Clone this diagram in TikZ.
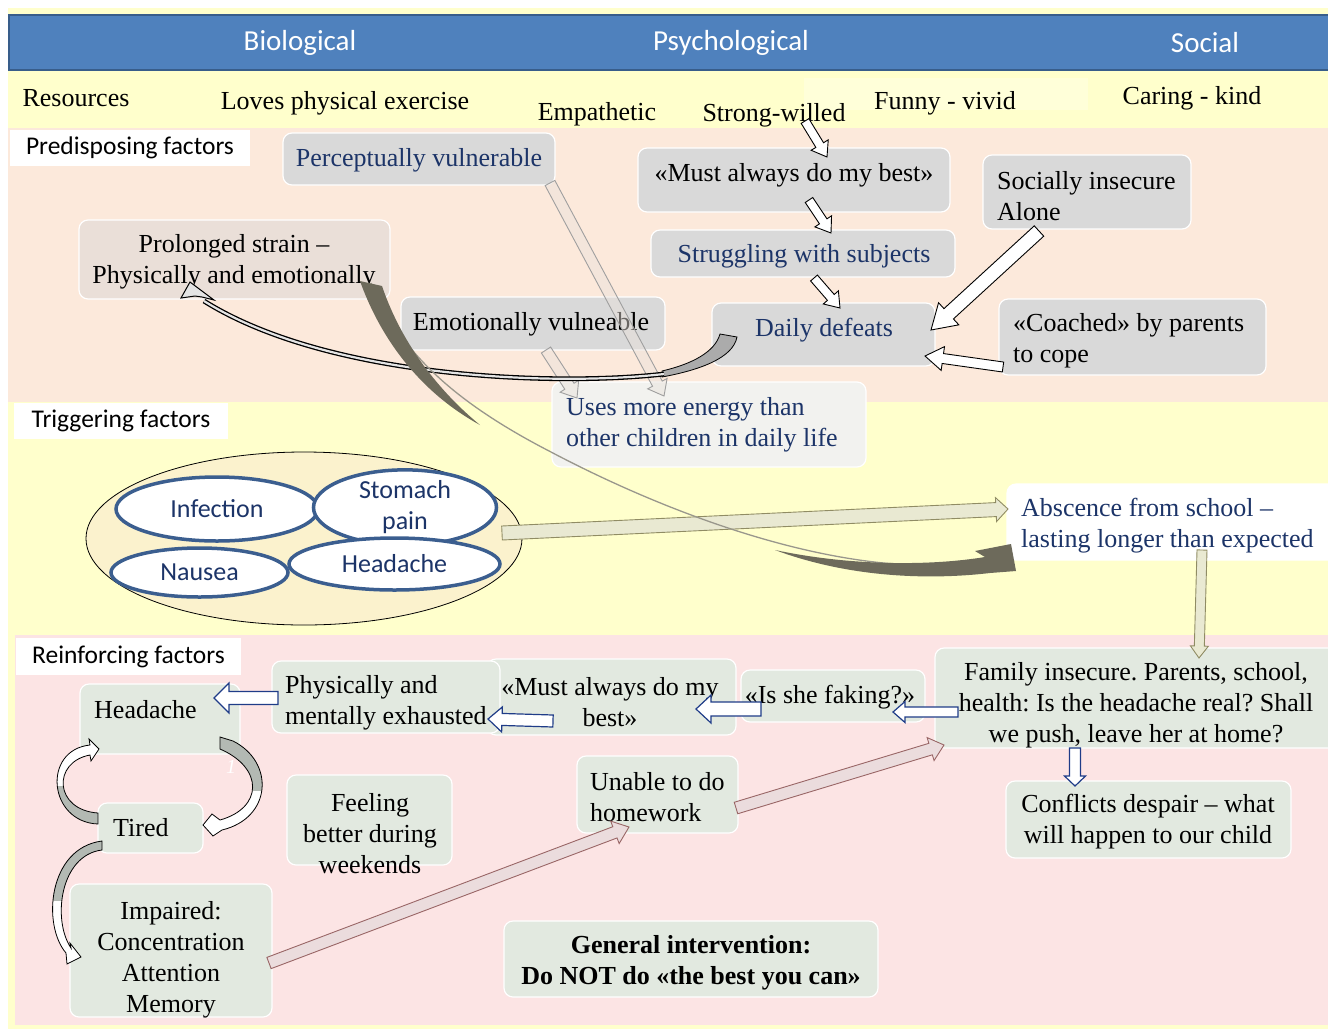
\documentclass[tikz,border=0pt]{standalone}
\usepackage{fontspec}
\setmainfont{Liberation Serif}
\newfontfamily\calib{Carlito}
\usetikzlibrary{calc,shapes.geometric}
\frenchspacing
\definecolor{hdrblue}{HTML}{4F81BD}
\definecolor{hdrline}{HTML}{385D8A}
\definecolor{ylw}{HTML}{FFFFCC}
\definecolor{peach}{HTML}{FCE9DB}
\definecolor{pinkbg}{HTML}{FCE4E4}
\definecolor{boxgray}{HTML}{D9D9D9}
\definecolor{strainbox}{HTML}{EADFD8}
\definecolor{energybox}{HTML}{F2F2EF}
\definecolor{greenbox}{HTML}{E2E9E0}
\definecolor{navy}{HTML}{1C3468}
\definecolor{ellblue}{HTML}{3B5E8F}
\definecolor{ellfill}{HTML}{FBF2CD}
\definecolor{darkarrow}{HTML}{6D6A5B}
\definecolor{lightbrown}{HTML}{E9E1DB}
\definecolor{beige}{HTML}{E9E9D2}
\definecolor{pinkarrow}{HTML}{EBDCDD}
\definecolor{arrowblue}{HTML}{1F3C88}
\definecolor{loopgray}{HTML}{B3B9B3}
\definecolor{tabgray}{HTML}{ABABAB}

\newcommand{\blockarrow}[6][]{%
  \draw[#1] let \p1=($(#3)-(#2)$), \n1={atan2(\y1,\x1)}, \n2={veclen(\x1,\y1)} in
    ($(#2)+({\n1+90}:{#4*0.5pt})$)
    -- ($(#2)+({\n1}:{\n2*1pt-#6pt})+({\n1+90}:{#4*0.5pt})$)
    -- ($(#2)+({\n1}:{\n2*1pt-#6pt})+({\n1+90}:{#5*0.5pt})$)
    -- (#3)
    -- ($(#2)+({\n1}:{\n2*1pt-#6pt})+({\n1-90}:{#5*0.5pt})$)
    -- ($(#2)+({\n1}:{\n2*1pt-#6pt})+({\n1-90}:{#4*0.5pt})$)
    -- ($(#2)+({\n1-90}:{#4*0.5pt})$) -- cycle;}

\newcommand{\loopApath}{(220,737) -- (233,741) .. controls (275,762) and (272,818) .. (222,830) -- (213,836) -- (203,825) -- (212,814) -- (220,820) .. controls (263,808) and (264,768) .. (220,749) -- cycle}
\newcommand{\loopBpath}{(98,824) .. controls (48,822) and (42,750) .. (90,745) -- (89,739) -- (99,749) -- (91,761) -- (90,755) .. controls (52,762) and (54,810) .. (98,813) -- cycle}
\newcommand{\loopCpath}{(102,841) .. controls (48,848) and (42,925) .. (66,953) -- (67,964) -- (81,957) -- (70,943) -- (71,948) .. controls (52,920) and (60,855) .. (102,850) -- cycle}

\tikzset{
  txt/.style={inner sep=0pt, font=\fontsize{26}{31}\selectfont, text=black},
  ntxt/.style={txt, text=navy},
  btxt/.style={inner sep=0pt, font=\bfseries\fontsize{26}{31}\selectfont},
  sans/.style={inner sep=0pt, font=\calib\fontsize{25.5}{31}\selectfont},
  hdr/.style={inner sep=0pt, font=\calib\fontsize{29}{32}\selectfont, text=white},
  gbox/.style={draw=white, line width=1.2pt, rounded corners=9pt, fill=boxgray, inner sep=0pt},
  rbox/.style={gbox, fill=greenbox},
  lbl/.style={sans, fill=white},
  ell/.style={ellipse, draw=ellblue, line width=3.5pt, fill=white, inner sep=0pt, text=navy, font=\calib\fontsize{26}{31}\selectfont, align=center},
  blk/.style={draw=black, line width=0.9pt, fill=white, line join=miter},
  lbr/.style={draw=gray!75, line width=0.9pt, fill=lightbrown, fill opacity=0.45, line join=miter},
  bge/.style={draw=gray!70!olive, line width=0.9pt, fill=beige, line join=miter},
  pnk/.style={draw=gray!80!red, line width=0.9pt, fill=pinkarrow, line join=miter},
  bla/.style={draw=arrowblue, line width=1.2pt, fill=white, line join=miter},
}

\begin{document}
\begin{tikzpicture}[x=1pt,y=-1pt]
\useasboundingbox (0,0) rectangle (1328,1029);
% backgrounds
\fill[white] (0,0) rectangle (1328,1029);
\fill[ylw] (8,8) rectangle (1328,1029);
\fill[ylw!75!white] (804,78) rectangle (1088,110);
\fill[peach] (8,128) rectangle (1328,402);
\fill[pinkbg] (15,635) rectangle (1328,1025);
\draw[fill=hdrblue, draw=hdrline, line width=2.5pt] (9,15) rectangle (1340,70);

% header
\node[hdr] (bio) at (300,43) {Biological};
\node[hdr] (psy) at (731,43) {Psychological};
\node[hdr] (soc) at (1205,43) {Social};

% resources
\node[txt] (res) at (76,98) {Resources};
\node[txt] (r1) at (345,103) {Loves physical exercise};
\node[txt] (r2) at (597,114) {Empathetic};
\node[txt] (r3) at (774,115) {Strong-willed};
\node[txt] (r4) at (945,103) {Funny - vivid};
\node[txt] (r5) at (1192,98) {Caring - kind};

% labels
\node[lbl, minimum width=240pt, minimum height=36pt] (pf) at (130,148) {Predisposing factors};
\node[lbl, minimum width=214pt, minimum height=36pt] (tf) at (121,421) {Triggering factors};
\node[lbl, minimum width=225pt, minimum height=37pt] (rf) at (128.5,656.5) {Reinforcing factors};

% predisposing boxes
\node[gbox, minimum width=272pt, minimum height=52pt] (pv) at (419,159) {};
\node[ntxt] (pvt) at (419,160) {Perceptually vulnerable};
\node[gbox, minimum width=312pt, minimum height=64pt] (mb) at (794,180) {};
\node[txt] (mbt) at (794,175) {«Must always do my best»};
\node[gbox, minimum width=304pt, minimum height=47pt] (sws) at (803,253.5) {};
\node[ntxt] (swst) at (804,256) {Struggling with subjects};
\node[gbox, minimum width=208pt, minimum height=74pt] (si) at (1087,192) {};
\node[txt, anchor=west, align=left] (sit) at (997,196) {Socially insecure\\Alone};
\node[gbox, fill=strainbox, minimum width=311pt, minimum height=79pt] (ps) at (234.5,259.5) {};
\node[txt, align=center] (pst) at (234,262) {Prolonged strain –\\Physically and emotionally};
\node[gbox, minimum width=264pt, minimum height=53pt] (ev) at (533,323.5) {};
\node[txt] (evt) at (531,324) {Emotionally vulneable};
\node[gbox, minimum width=223pt, minimum height=63pt] (dd) at (823.5,334.5) {};
\node[ntxt] (ddt) at (824,330) {Daily defeats};
\node[gbox, minimum width=267pt, minimum height=76pt] (co) at (1132.5,337) {};
\node[txt, anchor=west, align=left] (cot) at (1013,341) {«Coached» by parents\\to cope};
\node[gbox, fill=energybox, minimum width=314pt, minimum height=85pt] (ue) at (709,424.5) {};
\node[ntxt, anchor=west, align=left] (uet) at (566,425) {Uses more energy than\\other children in daily life};

% triggering
\node[ellipse, draw=black, line width=0.8pt, fill=ellfill, minimum width=436pt, minimum height=173pt] (trig) at (304,538.5) {};
\node[ell, minimum width=202pt, minimum height=64pt] (inf) at (217,509) {Infection};
\node[ell, minimum width=183pt, minimum height=59pt] (sto) at (405,507.5) {Stomach\\pain};
\node[ell, minimum width=177pt, minimum height=49pt] (nau) at (199.5,572.5) {Nausea};
\node[ell, minimum width=211pt, minimum height=52pt] (hea) at (394.5,564) {Headache};
\node[gbox, fill=white, draw=white, minimum width=333pt, minimum height=76pt] (abs) at (1173.5,522) {};
\node[ntxt, anchor=west, align=left] (abst) at (1021,526) {Abscence from school –\\lasting longer than expected};

% reinforcing boxes
\node[rbox, minimum width=160pt, minimum height=70pt] (hd) at (160,719) {};
\node[txt, anchor=west] (hdt) at (94,710) {Headache};
\node[rbox, minimum width=105pt, minimum height=50pt] (td) at (150.5,828) {};
\node[txt, anchor=west] (tdt) at (113,828) {Tired};
\node[rbox, minimum width=202pt, minimum height=133pt] (im) at (171,950.5) {};
\node[txt, align=center] (imt) at (171,960) {Impaired:\\Concentration\\Attention\\Memory};
\node[rbox, minimum width=165pt, minimum height=90pt] (fb) at (369.5,820) {};
\node[txt, align=center] (fbt) at (370,834) {Feeling\\better during\\weekends};
\node[rbox, minimum width=249pt, minimum height=76pt] (mb2) at (611.5,697) {};
\node[txt, align=center] (mb2t) at (610,702) {«Must always do my\\best»};
\node[rbox, minimum width=228pt, minimum height=72pt] (pm) at (386,697) {};
\node[txt, anchor=west, align=left] (pmt) at (285,703) {Physically and\\mentally exhausted};
\node[rbox, minimum width=184pt, minimum height=52pt] (sf) at (833,696) {};
\node[txt] (sft) at (830,697) {«Is she faking?»};
\node[rbox, minimum width=405pt, minimum height=100pt] (fi) at (1137.5,698) {};
\node[txt, align=center] (fit) at (1136,705) {Family insecure. Parents, school,\\health: Is the headache real? Shall\\we push, leave her at home?};
\node[rbox, minimum width=285pt, minimum height=77pt] (cd) at (1148.5,819.5) {};
\node[txt, align=center] (cdt) at (1148,822) {Conflicts despair – what\\will happen to our child};
\node[rbox, minimum width=161pt, minimum height=77pt] (uh) at (657.5,794.5) {};
\node[txt, anchor=west, align=left] (uht) at (590,797) {Unable to do\\homework};
\node[rbox, minimum width=374pt, minimum height=76pt] (gi) at (691,959) {};
\node[btxt, align=center] (git) at (691,963) {General intervention:\\Do NOT do «the best you can»};
\node[text=white, inner sep=0pt, font=\itshape\fontsize{20}{24}\selectfont] (one) at (231,767) {1};

% connector end points
\coordinate (a1s) at (805,121); \coordinate (a1e) at (827,157);
\coordinate (a2s) at (809,200); \coordinate (a2e) at (831,233);
\coordinate (a3s) at (814,278); \coordinate (a3e) at (840,308);
\coordinate (a4s) at (1039,231); \coordinate (a4e) at (931,330);
\coordinate (a5s) at (1003,367); \coordinate (a5e) at (925,356);
\coordinate (a6s) at (550,183); \coordinate (a6e) at (664,396);
\coordinate (a7s) at (546,350); \coordinate (a7e) at (577,398);
\coordinate (a8s) at (502,533); \coordinate (a8e) at (1008,509);
\coordinate (a9s) at (1202,550); \coordinate (a9e) at (1199,658);
\coordinate (a10s) at (1075,748); \coordinate (a10e) at (1075,786);
\coordinate (a11s) at (958,712); \coordinate (a11e) at (893,712);
\coordinate (a12s) at (761,709); \coordinate (a12e) at (696,709);
\coordinate (a13s) at (553,721); \coordinate (a13e) at (488,719);
\coordinate (a14s) at (278,698); \coordinate (a14e) at (214,698);
\coordinate (a18s) at (269,963); \coordinate (a18e) at (629,827);
\coordinate (a19s) at (736,808); \coordinate (a19e) at (944,745);
\coordinate (c1s) at (664,374); \coordinate (c1e) at (204,301);
\coordinate (c2s) at (371,283); \coordinate (c2e) at (975,562);

% predisposing arrows
\blockarrow[blk]{a1s}{a1e}{9}{20}{14}
\blockarrow[blk]{a2s}{a2e}{9}{20}{14}
\blockarrow[blk]{a3s}{a3e}{9}{20}{14}
\blockarrow[blk]{a4s}{a4e}{14}{30}{24}
\blockarrow[blk]{a5s}{a5e}{10}{24}{18}
\blockarrow[lbr]{a6s}{a6e}{11}{22}{14}
\blockarrow[lbr]{a7s}{a7e}{11}{22}{14}

% curved arrow daily defeats -> prolonged strain
\draw[black, line width=0.8pt, fill=tabgray] (720,334) .. controls (715,352) and (692,364) .. (662,371) -- (662,377) .. controls (700,370) and (733,358) .. (737,337) -- cycle;
\draw[double=boxgray!70, double distance=2.2pt, line width=1.3pt] (c1s) .. controls (560,386) and (330,380) .. (c1e);
\draw[black, line width=1pt, fill=boxgray!70, line join=miter] (181,298) -- (190,282) -- (214,300) -- (202,297) -- (195,296) -- cycle;

% triggering arrows
\blockarrow[bge]{a8s}{a8e}{14}{24}{12}
\blockarrow[bge]{a9s}{a9e}{10}{18}{12}

% dark curved arrow prolonged strain -> absence
\draw[darkarrow!70, line width=1.3pt] (c2s) .. controls (400,350) and (450,400) .. (551,452) .. controls (680,520) and (850,580) .. (c2e);
\fill[darkarrow] (360,281) .. controls (383,345) and (425,395) .. (480,425) .. controls (440,392) and (402,345) .. (382,286) -- cycle;
\fill[darkarrow] (775,550) .. controls (850,578) and (930,580) .. (990,573) -- (1016,571) -- (1011,544) -- (975,551) -- (985,557) .. controls (930,566) and (850,566) .. (775,550) -- cycle;

% reinforcing arrows
\blockarrow[bla]{a10s}{a10e}{11}{21}{10}
\blockarrow[bla]{a11s}{a11e}{10}{21}{12}
\blockarrow[bla]{a12s}{a12e}{14}{28}{15}
\blockarrow[bla]{a13s}{a13e}{12}{25}{14}
\blockarrow[bla]{a14s}{a14e}{13}{30}{15}
\blockarrow[pnk]{a18s}{a18e}{12}{24}{15}
\blockarrow[pnk]{a19s}{a19e}{12}{24}{14}

% loops
\fill[white] \loopApath;
\begin{scope}\clip (0,0) rectangle (1328,790); \fill[loopgray] \loopApath; \end{scope}
\draw[black, line width=0.8pt] \loopApath;
\fill[white] \loopBpath;
\begin{scope}\clip (0,786) rectangle (1328,1029); \fill[loopgray] \loopBpath; \end{scope}
\draw[black, line width=0.8pt] \loopBpath;
\fill[white] \loopCpath;
\begin{scope}\clip (0,0) rectangle (1328,900); \fill[loopgray] \loopCpath; \end{scope}
\draw[black, line width=0.8pt] \loopCpath;
\end{tikzpicture}
\end{document}
